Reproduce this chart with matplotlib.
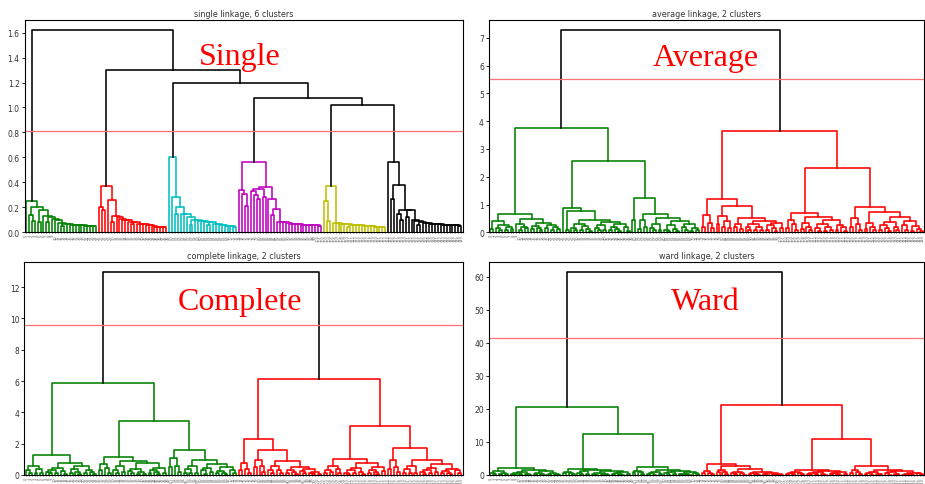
import matplotlib.pyplot as plt

o = None  # a leaf


def p(h):
    # two leaves joined at height h
    return (h, o, o)


def t(h1, h2):
    # one leaf joined at h1 to a pair joined at h2
    return (h1, o, p(h2))


def comb(hs):
    # staircase: each entry hangs a leaf (or a (h, subtree)) on the rest
    first = hs[0]
    h, left = first if isinstance(first, tuple) else (first, o)
    right = comb(hs[1:]) if len(hs) > 1 else o
    return (h, left, right)


# ---- single linkage ----
single_green = comb([0.25, (0.205, t(0.135, 0.09)), (0.175, p(0.085)), 0.13, (0.12, p(0.08)),
                     0.105, 0.10, 0.075, (0.07, p(0.05)), 0.065, 0.06, 0.06, 0.055, 0.055,
                     0.055, 0.05, 0.05, 0.05, 0.05])
single_red = (0.37, t(0.20, 0.175),
              comb([0.26, (0.13, p(0.08)), 0.125, 0.105, 0.10, 0.095, 0.085, (0.08, p(0.07)),
                    0.07, 0.07, 0.065, 0.06, 0.055, 0.05, 0.045, 0.04, 0.04, 0.04]))
single_cyan = (0.60, o,
               comb([0.285, (0.205, p(0.15)), 0.15, 0.145, 0.12, (0.10, p(0.06)), 0.095, 0.09,
                     0.09, 0.085, (0.08, p(0.06)), 0.07, 0.065, 0.06, 0.055, 0.05, 0.05, 0.05,
                     0.045]))
single_magenta = (0.56, (0.335, o, t(0.31, 0.21)),
                  (0.36, (0.35, (0.33, o, t(0.30, 0.27)), p(0.28)),
                   comb([0.265, (0.19, p(0.14)), 0.085, 0.08, 0.08, 0.075, 0.07, 0.07, 0.065,
                         0.065, 0.06, 0.06, 0.06, 0.06, 0.055, 0.055, 0.05])))
single_yellow = (0.37, t(0.25, 0.09),
                 comb([0.075, 0.075, 0.07, 0.07, 0.065, (0.06, p(0.045)), 0.06, 0.055, 0.055,
                       0.05, 0.05, 0.05, 0.05, 0.045, 0.045, 0.04, 0.04]))
single_black = (0.56, o, (0.375, p(0.27), (0.18, t(0.15, 0.10), (0.175, p(0.12),
                comb([0.10, 0.09, (0.08, p(0.06)), 0.075, 0.075, 0.07, 0.07, 0.065, 0.065,
                      0.06, 0.06, 0.06, 0.06, 0.055, 0.055, 0.05])))))
single_tree = (1.62, single_green, (1.30, single_red, (1.20, single_cyan,
               (1.08, single_magenta, (1.02, single_yellow, single_black)))))

# ---- average linkage ----
avg_g1 = (0.65, (0.42, p(0.12), (0.28, t(0.15, 0.08), (0.2, p(0.1), p(0.12)))),
          (0.48, (0.3, o, (0.2, p(0.1), p(0.14))),
           (0.35, (0.22, p(0.12), t(0.16, 0.08)), (0.25, p(0.15), (0.18, p(0.1), p(0.12))))))
avg_g2 = (0.87, o, (0.75, p(0.1), (0.45, (0.3, t(0.15, 0.07), (0.22, p(0.08), t(0.12, 0.06))),
          (0.38, (0.25, t(0.14, 0.08), p(0.1)), (0.3, (0.2, p(0.07), t(0.12, 0.05)), t(0.18, 0.06))))))
avg_g3 = (1.25, p(0.45), (0.66, (0.45, p(0.12), p(0.2)),
          (0.5, (0.3, t(0.15, 0.07), p(0.1)),
           (0.42, (0.28, t(0.1, 0.05), t(0.12, 0.06)), (0.3, t(0.2, 0.1), (0.15, p(0.05), p(0.07)))))))
avg_r1 = (1.2, (0.62, p(0.2), t(0.35, 0.15)),
          (0.95, (0.6, p(0.3), (0.4, p(0.2), p(0.15))),
           (0.5, (0.3, p(0.2), p(0.12)),
            (0.42, (0.3, t(0.18, 0.08), (0.2, p(0.08), p(0.1))),
             (0.35, (0.25, p(0.1), t(0.15, 0.05)), p(0.15))))))
avg_r2 = (0.7, (0.45, p(0.15), t(0.3, 0.1)),
          (0.55, (0.35, p(0.12), t(0.2, 0.1)),
           (0.45, (0.3, t(0.15, 0.05), (0.2, p(0.06), p(0.1))), (0.25, p(0.1), t(0.18, 0.05)))))
avg_r3 = (0.9, (0.5, p(0.2), t(0.3, 0.1)),
          (0.72, (0.35, p(0.12), t(0.2, 0.08)),
           (0.55, (0.38, (0.25, p(0.08), t(0.15, 0.05)), t(0.2, 0.07)),
            (0.4, t(0.28, 0.1), (0.22, p(0.05), t(0.12, 0.06))))))
avg_tree = (7.28, (3.74, avg_g1, (2.58, avg_g2, avg_g3)), (3.66, avg_r1, (2.32, avg_r2, avg_r3)))

# ---- complete linkage ----
comp_g1 = (1.3, (0.6, t(0.3, 0.1), (0.4, p(0.15), p(0.1))),
           (0.77, (0.45, (0.3, t(0.2, 0.1), p(0.12)), t(0.25, 0.05)),
            (0.6, (0.4, p(0.1), t(0.2, 0.07)), (0.3, p(0.12), t(0.18, 0.06)))))
comp_g2 = (1.17, (0.7, p(0.3), t(0.45, 0.1)),
           (0.9, (0.55, t(0.3, 0.1), p(0.2)),
            (0.75, (0.4, t(0.25, 0.1), (0.2, p(0.08), p(0.06))), (0.45, (0.3, p(0.1), t(0.2, 0.08)), p(0.15)))))
comp_g3 = (1.6, (1.08, p(0.5), t(0.6, 0.2)),
           (0.96, (0.6, (0.4, p(0.15), p(0.1)), p(0.12)),
            (0.7, (0.45, t(0.3, 0.07), p(0.2)), (0.5, (0.25, p(0.1), t(0.15, 0.05)), t(0.3, 0.12)))))
comp_r1 = (2.28, (0.74, p(0.3), t(0.4, 0.15)),
           (1.62, (0.96, p(0.5), t(0.55, 0.2)),
            (0.91, (0.6, t(0.35, 0.12), t(0.3, 0.1)),
             (0.5, (0.35, p(0.1), t(0.2, 0.06)), (0.4, t(0.25, 0.1), (0.2, t(0.15, 0.05), p(0.08)))))))
comp_r2 = (1.04, (0.6, (0.35, p(0.1), p(0.2)), t(0.4, 0.15)),
           (0.75, (0.45, (0.3, t(0.15, 0.05), p(0.1)), t(0.2, 0.08)),
            (0.5, (0.3, p(0.12), t(0.2, 0.06)), p(0.25))))
comp_r3 = (1.74, (0.95, p(0.4), t(0.5, 0.2)),
           (0.97, (0.6, (0.4, p(0.15), p(0.1)), p(0.12)),
            (0.7, (0.45, (0.3, t(0.2, 0.07), p(0.1)), p(0.18)), (0.4, (0.25, p(0.1), t(0.15, 0.05)), t(0.3, 0.12)))))
comp_tree = (12.95, (5.85, comp_g1, (3.47, comp_g2, comp_g3)), (6.15, comp_r1, (3.13, comp_r2, comp_r3)))

# ---- ward linkage ----
ward_g1 = (2.0, (1.1, t(0.5, 0.2), (0.7, p(0.3), p(0.2))),
           (1.5, (0.9, (0.5, t(0.3, 0.15), p(0.2)), t(0.4, 0.1)),
            (1.2, (0.6, p(0.2), t(0.35, 0.15)), (0.5, p(0.25), t(0.3, 0.1)))))
ward_g2 = (1.8, (1.0, p(0.5), t(0.7, 0.2)),
           (1.6, (1.1, t(0.5, 0.2), p(0.4)),
            (1.3, (0.7, t(0.4, 0.15), (0.3, p(0.15), p(0.1))), (0.8, (0.5, p(0.2), t(0.3, 0.1)), p(0.3)))))
ward_g3 = (2.35, (1.2, p(0.8), t(0.9, 0.3)),
           (1.6, (1.0, (0.6, p(0.25), p(0.15)), p(0.2)),
            (1.3, (0.8, t(0.5, 0.15), p(0.3)), (0.9, (0.45, p(0.2), t(0.25, 0.1)), t(0.5, 0.2)))))
ward_r1 = (3.4, (1.3, p(0.5), t(0.7, 0.25)),
           (2.8, (1.6, p(0.8), t(0.9, 0.3)),
            (1.8, (1.0, t(0.6, 0.2), t(0.5, 0.15)),
             (1.0, (0.6, p(0.2), t(0.35, 0.1)), (0.7, t(0.4, 0.15), (0.35, t(0.25, 0.1), p(0.15)))))))
ward_r2 = (1.6, (1.0, (0.6, p(0.2), p(0.35)), t(0.7, 0.25)),
           (1.3, (0.8, (0.5, t(0.25, 0.1), p(0.2)), t(0.35, 0.15)),
            (0.9, (0.5, p(0.2), t(0.3, 0.1)), p(0.4))))
ward_r3 = (2.6, (1.5, p(0.7), t(0.8, 0.3)),
           (1.6, (1.0, (0.6, p(0.25), p(0.15)), t(0.35, 0.2)),
            (1.2, (0.8, t(0.5, 0.15), t(0.4, 0.3)), (0.7, (0.4, p(0.15), t(0.25, 0.1)), t(0.5, 0.2)))))
ward_tree = (61.4, (20.7, ward_g1, (12.4, ward_g2, ward_g3)), (21.2, ward_r1, (10.8, ward_r2, ward_r3)))

trees = [single_tree, avg_tree, comp_tree, ward_tree]
titles = ["single linkage, 6 clusters", "average linkage, 2 clusters",
          "complete linkage, 2 clusters", "ward linkage, 2 clusters"]
cut_heights = [0.815, 5.51, 9.55, 41.4]
names = ["Single", "Average", "Complete", "Ward"]
palette = ["g", "r", "c", "m", "y", "k"]

# axes boxes in pixels: left, top, right, bottom ; name text centre x, baseline y
W, H = 925, 485
boxes = [(24.5, 21, 462.7, 233.3), (488.8, 21, 924, 233.3),
         (24.3, 263, 462.7, 476), (489, 263, 924, 476)]
name_pos = [(240, 65), (705.5, 66.5), (240.3, 310.5), (705.7, 310)]


def draw(ax, node, cut, colors, leaves, color=None):
    if node is None:
        x = 5 + 10 * len(leaves)
        leaves.append(x)
        return x, 0.0
    h, a, b = node
    if color is None and h < cut:
        color = next(colors)
    xa, ha = draw(ax, a, cut, colors, leaves, color)
    xb, hb = draw(ax, b, cut, colors, leaves, color)
    ax.plot([xa, xa, xb, xb], [ha, h, h, hb], color=color or "k", lw=1.15)
    return (xa + xb) / 2, h


fig = plt.figure(figsize=(W / 100, H / 100), dpi=100)
for tree, title, cut, name, (l, tp, r, bt), (nx, ny) in zip(
        trees, titles, cut_heights, names, boxes, name_pos):
    ax = fig.add_axes([l / W, 1 - bt / H, (r - l) / W, (bt - tp) / H])
    leaves = []
    draw(ax, tree, cut, iter(palette), leaves)
    ax.axhline(cut, color="#ff7070", lw=0.9)
    ax.set_xlim(0, 10 * len(leaves))
    ax.set_ylim(0, tree[0] * 1.05)
    ax.set_xticks(leaves)
    ax.set_xticklabels([str(i) for i in range(len(leaves))], rotation=90, fontsize=2.6,
                       color="#666666")
    ax.tick_params(axis="x", length=0.8, width=0.4, pad=0.5)
    ax.tick_params(axis="y", labelsize=5.5, length=2.5, width=0.6, pad=1,
                   labelcolor="#333333")
    for s in ax.spines.values():
        s.set_linewidth(0.8)
    ax.set_title(title, fontsize=5.8, pad=3, color="#333333")
    fig.text(nx / W, 1 - ny / H, name, ha="center", va="baseline", color="red",
             fontsize=23, family="Liberation Serif")

fig.savefig("out.png", dpi=100)
